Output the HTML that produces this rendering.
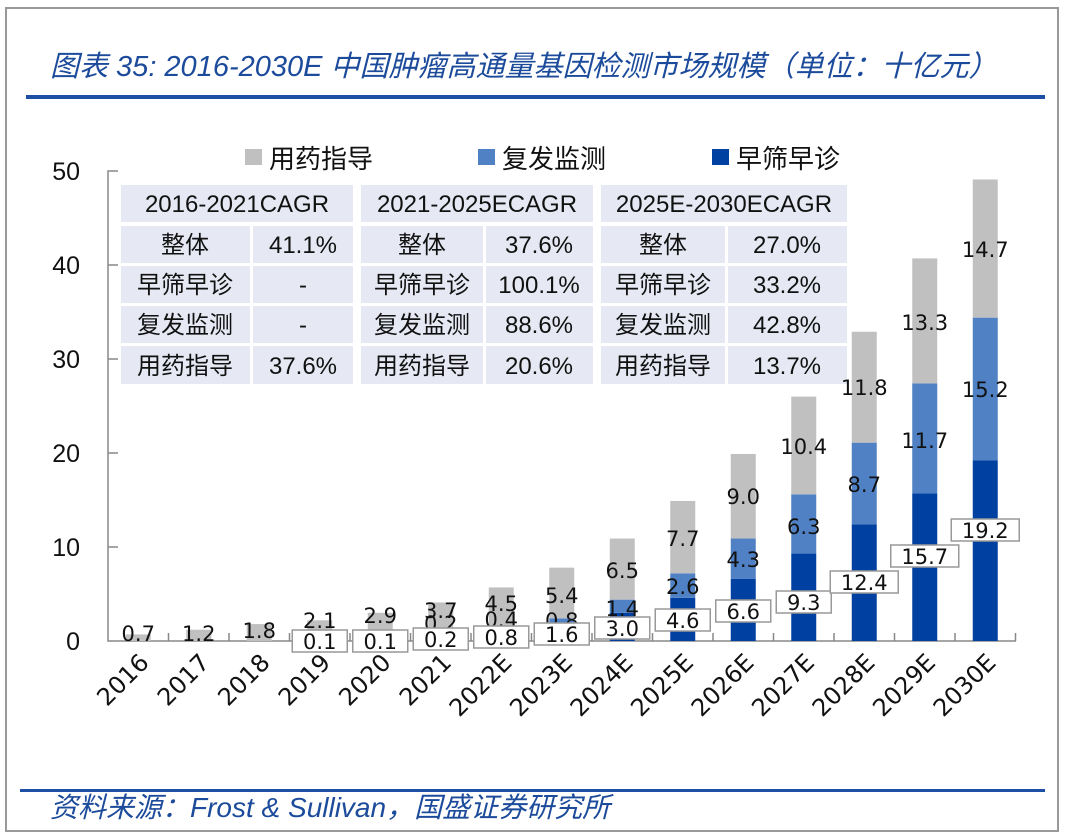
<!DOCTYPE html>
<html><head><meta charset="utf-8"><style>
body{margin:0;background:#fff;}
svg{display:block;}
.t{font-family:"DejaVu Sans",sans-serif;font-size:21px;fill:#111;text-anchor:middle;}
.tb{font-family:"Liberation Sans","Noto Sans CJK SC",sans-serif;font-size:24px;fill:#111;text-anchor:middle;}
</style></head><body>
<svg width="1080" height="837" xmlns="http://www.w3.org/2000/svg">
<rect x="6" y="8" width="1052" height="823" fill="#fff" stroke="#999" stroke-width="2"/>
<text x="50" y="76" font-family="Liberation Sans,'Noto Sans CJK SC',sans-serif" font-size="29" font-style="italic" fill="#1d4b9b">图表 35:  2016-2030E 中国肿瘤高通量基因检测市场规模（单位：十亿元）</text>
<rect x="26" y="95" width="1019" height="4" fill="#1d50a5"/>
<g font-family="'Noto Sans CJK SC',sans-serif" font-size="26" fill="#111">
<rect x="245" y="149" width="17" height="16" fill="#c0c0c0"/><text x="269" y="168">用药指导</text>
<rect x="478" y="149" width="17" height="16" fill="#4f81c4"/><text x="502" y="168">复发监测</text>
<rect x="712" y="149" width="17" height="16" fill="#0040a0"/><text x="736" y="168">早筛早诊</text>
</g>
<g font-family="Liberation Sans,sans-serif" font-size="25" fill="#111" text-anchor="end">
<text x="80" y="180">50</text><text x="80" y="274">40</text><text x="80" y="368">30</text><text x="80" y="462">20</text><text x="80" y="556">10</text><text x="80" y="650">0</text>
</g>
<path d="M118 171H108V641H1016M108 265H118M108 359H118M108 453H118M108 547H118" stroke="#888" stroke-width="1.5" fill="none"/>
<path d="M168.5 641v-8M229 641v-8M289.5 641v-8M350 641v-8M410.5 641v-8M471 641v-8M531.5 641v-8M592 641v-8M652.5 641v-8M713 641v-8M773.5 641v-8M834 641v-8M894.5 641v-8M955 641v-8M1015.5 641v-8" stroke="#888" stroke-width="1.5"/>
<g fill="#e6e9f3">
<rect x="121" y="185" width="232" height="37"/>
<rect x="121" y="226" width="129" height="37"/><rect x="253" y="226" width="100" height="37"/>
<rect x="121" y="266" width="129" height="37"/><rect x="253" y="266" width="100" height="37"/>
<rect x="121" y="306" width="129" height="37"/><rect x="253" y="306" width="100" height="37"/>
<rect x="121" y="346" width="129" height="38"/><rect x="253" y="346" width="100" height="38"/>
<rect x="361" y="185" width="232" height="37"/>
<rect x="361" y="226" width="122" height="37"/><rect x="486" y="226" width="107" height="37"/>
<rect x="361" y="266" width="122" height="37"/><rect x="486" y="266" width="107" height="37"/>
<rect x="361" y="306" width="122" height="37"/><rect x="486" y="306" width="107" height="37"/>
<rect x="361" y="346" width="122" height="38"/><rect x="486" y="346" width="107" height="38"/>
<rect x="601" y="185" width="246" height="37"/>
<rect x="601" y="226" width="124" height="37"/><rect x="728" y="226" width="119" height="37"/>
<rect x="601" y="266" width="124" height="37"/><rect x="728" y="266" width="119" height="37"/>
<rect x="601" y="306" width="124" height="37"/><rect x="728" y="306" width="119" height="37"/>
<rect x="601" y="346" width="124" height="38"/><rect x="728" y="346" width="119" height="38"/>
</g>
<g class="tb">
<text x="237" y="212">2016-2021CAGR</text><text x="477" y="212">2021-2025ECAGR</text><text x="724" y="212">2025E-2030ECAGR</text>
<text x="185" y="253">整体</text><text x="303" y="253">41.1%</text>
<text x="185" y="293">早筛早诊</text><text x="303" y="293">-</text>
<text x="185" y="333">复发监测</text><text x="303" y="333">-</text>
<text x="185" y="374">用药指导</text><text x="303" y="374">37.6%</text>
<text x="422" y="253">整体</text><text x="539" y="253">37.6%</text>
<text x="422" y="293">早筛早诊</text><text x="539" y="293">100.1%</text>
<text x="422" y="333">复发监测</text><text x="539" y="333">88.6%</text>
<text x="422" y="374">用药指导</text><text x="539" y="374">20.6%</text>
<text x="663" y="253">整体</text><text x="787" y="253">27.0%</text>
<text x="663" y="293">早筛早诊</text><text x="787" y="293">33.2%</text>
<text x="663" y="333">复发监测</text><text x="787" y="333">42.8%</text>
<text x="663" y="374">用药指导</text><text x="787" y="374">13.7%</text>
</g>
<g id="bars"></g>
<g id="labels"></g>
<g id="years" font-family="DejaVu Sans,sans-serif" font-size="24" fill="#111" text-anchor="end"></g>
<rect x="20" y="789" width="1025" height="3" fill="#1d50a5"/>
<text x="50" y="817" font-family="Liberation Sans,'Noto Sans CJK SC',sans-serif" font-size="28" font-style="italic" fill="#1d4b9b">资料来源：Frost &amp; Sullivan，国盛证券研究所</text>
<script>
var d=[[0,0,0.7],[0,0,1.2],[0,0,1.8],[0.1,0,2.1],[0.1,0,2.9],[0.2,0.2,3.7],[0.8,0.4,4.5],[1.6,0.8,5.4],[3.0,1.4,6.5],[4.6,2.6,7.7],[6.6,4.3,9.0],[9.3,6.3,10.4],[12.4,8.7,11.8],[15.7,11.7,13.3],[19.2,15.2,14.7]];
var yrs=["2016","2017","2018","2019","2020","2021","2022E","2023E","2024E","2025E","2026E","2027E","2028E","2029E","2030E"];
var gy=[633,633,630,620,615,610,603,595,570,538,496,446,387,322,249];
var by=[0,0,0,0,0,623,619,620,608,586,559,526,484,440,389];
var dy=[0,0,0,641,641,639,637,634,628,620,611,602,582,556,530];
var cols=["#0040a0","#4f81c4","#c0c0c0"];
var ns="http://www.w3.org/2000/svg",B=document.getElementById("bars"),L=document.getElementById("labels"),Y=document.getElementById("years");
function el(t,a,p,tx){var e=document.createElementNS(ns,t);for(var k in a)e.setAttribute(k,a[k]);if(tx!=null)e.textContent=tx;p.appendChild(e);return e;}
for(var i=0;i<15;i++){var cx=108+60.5*(i+0.5),y=641;
for(var j=0;j<3;j++){var h=d[i][j]*9.4;if(h>0){el("rect",{x:cx-12.5,y:y-h,width:25,height:h,fill:cols[j]},B);y-=h;}}
el("text",{"class":"t",x:cx,y:gy[i]+8},L,d[i][2].toFixed(1));
if(by[i])el("text",{"class":"t",x:cx,y:by[i]+8},L,d[i][1].toFixed(1));
if(dy[i]){var s=d[i][0].toFixed(1),w=s.length>3?68:55;
el("rect",{x:cx-w/2,y:dy[i]-11,width:w,height:22,fill:"#fff",stroke:"#999","stroke-width":1.5},L);
el("text",{"class":"t",x:cx,y:dy[i]+8},L,s);}
el("text",{transform:"translate("+(cx+12)+",664) rotate(-45)"},Y,yrs[i]);}
</script>
</svg>
</body></html>
